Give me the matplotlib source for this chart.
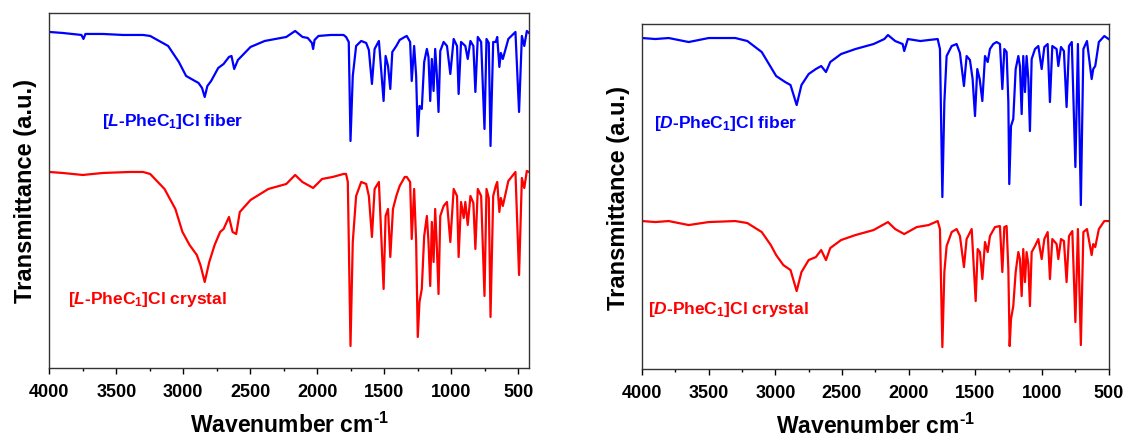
import matplotlib
matplotlib.use("Agg")
import matplotlib.pyplot as plt
from matplotlib.ticker import MultipleLocator

plt.rcParams['font.family'] = ['Liberation Sans', 'DejaVu Sans']
plt.rcParams['font.weight'] = 'bold'
plt.rcParams['mathtext.fontset'] = 'custom'
plt.rcParams['mathtext.rm'] = 'Liberation Sans:bold'
plt.rcParams['mathtext.it'] = 'Liberation Sans:bold:italic'
plt.rcParams['mathtext.bf'] = 'Liberation Sans:bold'

# left panel, L-PheC1 (traced vertices: wavenumber, transmittance a.u.)
l_fiber_wn = [4000, 3900, 3760, 3745, 3730, 3600, 3450, 3300, 3247, 3113, 3033, 2979, 2913, 2886, 2860, 2840,
              2820, 2792, 2739, 2699, 2659, 2640, 2620, 2592, 2498, 2392, 2231, 2165, 2110, 2071, 2040, 2031,
              2020, 1991, 1900, 1804, 1785, 1765, 1752, 1735, 1710, 1672, 1635, 1615, 1592, 1572, 1540, 1505,
              1490, 1472, 1455, 1440, 1410, 1385, 1347, 1332, 1307, 1295, 1277, 1262, 1250, 1237, 1220, 1202,
              1182, 1170, 1157, 1145, 1132, 1120, 1107, 1095, 1082, 1057, 1032, 1007, 982, 957, 945, 927,
              895, 877, 857, 835, 820, 802, 777, 752, 737, 720, 707, 687, 668, 657, 641, 630,
              615, 574, 521, 494, 473, 455, 436, 420]
l_fiber_t = [336, 335, 333, 329, 334, 334, 333, 333, 332, 322, 306, 292, 287, 285, 280, 271,
             282, 287, 300, 304, 311, 312, 299, 308, 321, 327, 331, 337, 331, 330, 325, 319,
             328, 332, 333, 333, 331, 326, 227, 292, 322, 327, 325, 318, 284, 319, 327, 267,
             312, 302, 279, 316, 322, 328, 331, 332, 326, 287, 322, 292, 232, 262, 259, 306,
             319, 311, 267, 309, 277, 319, 292, 256, 317, 326, 322, 294, 329, 322, 274, 326,
             322, 309, 327, 322, 276, 331, 326, 239, 329, 325, 222, 326, 326, 331, 301, 315,
             309, 329, 336, 256, 332, 322, 337, 335]

l_crystal_wn = [4000, 3900, 3750, 3600, 3400, 3300, 3247, 3140, 3059, 3006, 2953, 2899, 2872, 2840, 2806, 2766,
                2725, 2699, 2659, 2632, 2605, 2578, 2498, 2365, 2231, 2165, 2111, 2031, 1964, 1885, 1804, 1785,
                1772, 1752, 1735, 1710, 1672, 1635, 1615, 1592, 1572, 1540, 1505, 1490, 1472, 1455, 1435, 1410,
                1385, 1347, 1332, 1307, 1295, 1277, 1262, 1250, 1237, 1220, 1202, 1182, 1170, 1157, 1145, 1132,
                1120, 1107, 1095, 1082, 1057, 1032, 1007, 982, 957, 945, 927, 907, 895, 877, 857, 835,
                820, 802, 777, 752, 737, 720, 707, 687, 668, 657, 641, 630, 615, 574, 521, 494,
                473, 455, 436, 420]
l_crystal_t = [196, 195, 193, 195, 196, 196, 194, 179, 159, 136, 123, 113, 103, 86, 106, 123,
               136, 139, 151, 136, 134, 156, 168, 179, 184, 193, 186, 180, 189, 191, 194, 194,
               186, 22, 126, 172, 186, 184, 172, 131, 179, 186, 79, 152, 159, 111, 159, 172,
               182, 191, 191, 186, 129, 179, 126, 31, 66, 79, 132, 152, 126, 82, 146, 106,
               159, 119, 74, 152, 162, 166, 126, 179, 172, 111, 166, 150, 166, 143, 172, 165,
               119, 179, 172, 72, 179, 170, 51, 172, 182, 186, 156, 170, 162, 187, 196, 93,
               190, 180, 197, 196]

# right panel, D-PheC1
d_fiber_wn = [4000, 3900, 3800, 3650, 3500, 3300, 3210, 3102, 3048, 2994, 2926, 2886, 2840, 2804, 2750, 2696,
              2656, 2620, 2588, 2507, 2399, 2263, 2182, 2155, 2101, 2045, 2033, 2006, 1912, 1850, 1782, 1765,
              1747, 1732, 1715, 1677, 1640, 1615, 1585, 1565, 1540, 1520, 1502, 1485, 1467, 1447, 1427, 1407,
              1390, 1365, 1340, 1315, 1297, 1282, 1265, 1252, 1245, 1232, 1215, 1197, 1177, 1165, 1152, 1140,
              1127, 1115, 1102, 1090, 1077, 1052, 1027, 1002, 982, 957, 940, 922, 890, 877, 857, 835,
              815, 797, 776, 749, 730, 708, 689, 662, 627, 615, 600, 573, 532, 500]
d_fiber_t = [331, 330, 331, 327, 331, 331, 328, 317, 305, 293, 287, 284, 264, 284, 295, 300,
             303, 297, 307, 315, 320, 325, 330, 334, 328, 325, 318, 330, 328, 329, 330, 320,
             172, 267, 313, 323, 325, 316, 283, 313, 309, 290, 253, 300, 290, 268, 313, 307,
             320, 325, 327, 325, 280, 320, 317, 267, 185, 243, 250, 300, 313, 303, 255, 313,
             277, 313, 290, 238, 310, 320, 323, 300, 322, 325, 267, 323, 320, 303, 322, 318,
             262, 323, 327, 202, 325, 164, 320, 328, 290, 300, 303, 327, 333, 330]

d_crystal_wn = [4000, 3900, 3800, 3650, 3500, 3300, 3210, 3102, 3034, 2994, 2940, 2886, 2840, 2804, 2750, 2696,
                2656, 2620, 2588, 2507, 2399, 2263, 2155, 2101, 2033, 1939, 1850, 1782, 1765, 1747, 1732, 1715,
                1677, 1640, 1615, 1585, 1565, 1527, 1497, 1482, 1465, 1447, 1427, 1407, 1390, 1352, 1315, 1297,
                1282, 1265, 1252, 1242, 1232, 1215, 1197, 1177, 1165, 1152, 1140, 1127, 1115, 1102, 1090, 1077,
                1052, 1027, 1002, 982, 957, 940, 922, 890, 877, 857, 835, 815, 797, 772, 749, 730,
                708, 689, 662, 627, 615, 600, 573, 532, 500]
d_crystal_t = [148, 147, 148, 144, 147, 148, 146, 137, 124, 114, 104, 99, 78, 97, 109, 112,
               119, 109, 121, 129, 134, 139, 147, 140, 135, 142, 144, 148, 140, 22, 97, 123,
               137, 140, 133, 102, 130, 140, 68, 120, 117, 90, 127, 117, 133, 142, 143, 97,
               142, 143, 100, 23, 50, 63, 97, 117, 110, 73, 120, 87, 117, 105, 63, 117,
               123, 130, 110, 130, 137, 90, 130, 125, 110, 130, 128, 87, 133, 138, 47, 140,
               24, 137, 140, 114, 125, 122, 140, 148, 148]

fig = plt.figure(figsize=(11.25, 4.39), dpi=100)
ax1 = fig.add_axes([0.0438, 0.1595, 0.4264, 0.8087])
ax2 = fig.add_axes([0.5707, 0.157, 0.4147, 0.786])

panels = [
    (ax1, l_fiber_wn, l_fiber_t, l_crystal_wn, l_crystal_t, 'L', (4000, 420), (0, 355),
     (3607, 247), (3861, 69)),
    (ax2, d_fiber_wn, d_fiber_t, d_crystal_wn, d_crystal_t, 'D', (4000, 500), (0, 345),
     (3913, 247), (3959, 61)),
]

for ax, fwn, ft, cwn, ct, iso, xl, yl, fpos, cpos in panels:
    ax.plot(fwn, ft, color='#0000ff', lw=1.6)
    ax.plot(cwn, ct, color='#ff0000', lw=1.6)
    ax.set_xlim(*xl)
    ax.set_ylim(*yl)
    ax.xaxis.set_major_locator(MultipleLocator(500))
    ax.xaxis.set_minor_locator(MultipleLocator(250))
    ax.set_yticks([])
    ax.tick_params(axis='x', which='major', direction='out', length=4, width=1,
                   labelsize=13, pad=7)
    ax.tick_params(axis='x', which='minor', direction='out', length=2.2, width=1)
    for s in ax.spines.values():
        s.set_linewidth(1)
        s.set_color('#333333')
    for lab in ax.get_xticklabels():
        lab.set_fontweight('bold')
    ax.set_xlabel(r'Wavenumber cm$^{\text{-1}}$', fontsize=16.5, fontweight='bold', labelpad=8)
    ax.set_ylabel('Transmittance (a.u.)', fontsize=17, fontweight='bold', labelpad=9)
    ax.text(fpos[0], fpos[1], r'[$\mathit{%s}$-PheC$_1$]Cl fiber' % iso, color='#0000ff',
            fontsize=12.5, fontweight='bold', va='center', ha='left')
    ax.text(cpos[0], cpos[1], r'[$\mathit{%s}$-PheC$_1$]Cl crystal' % iso, color='#ff0000',
            fontsize=12.5, fontweight='bold', va='center', ha='left')

fig.savefig('out.png', dpi=100)
